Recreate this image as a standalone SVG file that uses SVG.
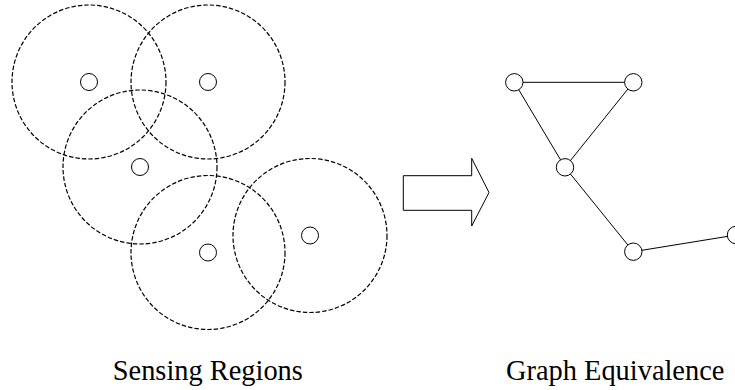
<svg xmlns="http://www.w3.org/2000/svg" width="735" height="390" viewBox="0 0 735 390">
<style>
.range{fill:none;stroke:#000;stroke-width:1.2;stroke-dasharray:4.5,2}
.node{fill:#fff;stroke:#000;stroke-width:1}
.edge{stroke:#000;stroke-width:1;fill:none}
.lbl{font-family:"Liberation Serif","Times New Roman",serif;font-size:28.4px;fill:#000;text-anchor:middle}
</style>
<rect width="735" height="390" fill="#fff"/>
<g id="sensing-regions">
<circle class="range" cx="89" cy="82" r="77"/>
<circle class="range" cx="208" cy="82" r="77"/>
<circle class="range" cx="140" cy="167" r="77"/>
<circle class="range" cx="208" cy="252.5" r="77"/>
<circle class="range" cx="310" cy="235.5" r="77"/>
</g>
<g id="sensors">
<circle class="node" cx="89" cy="82" r="8.5"/>
<circle class="node" cx="208" cy="82" r="8.5"/>
<circle class="node" cx="140" cy="167" r="8.5"/>
<circle class="node" cx="208" cy="252.5" r="8.5"/>
<circle class="node" cx="310" cy="235.5" r="8.5"/>
</g>
<g id="arrow">
<polygon points="403.3,175.7 471.7,175.7 471.7,158.3 489,192.5 471.7,226 471.7,210.3 403.3,210.3" fill="#fff" stroke="#000" stroke-width="1"/>
</g>
<g id="connectors">
<line class="edge" x1="514.3" y1="82.3" x2="633.3" y2="82.3"/>
<line class="edge" x1="514.3" y1="82.3" x2="565" y2="167.3"/>
<line class="edge" x1="633.3" y1="82.3" x2="565" y2="167.3"/>
<line class="edge" x1="565" y1="167.3" x2="633.3" y2="251.7"/>
<line class="edge" x1="633.3" y1="251.7" x2="736" y2="235"/>
</g>
<g id="n1"><circle class="node" cx="514.3" cy="82.3" r="8.7"/></g>
<g id="n2"><circle class="node" cx="633.3" cy="82.3" r="8.7"/></g>
<g id="n3"><circle class="node" cx="565" cy="167.3" r="8.7"/></g>
<g id="n4"><circle class="node" cx="633.3" cy="251.7" r="8.7"/></g>
<g id="n5"><circle class="node" cx="736" cy="235" r="8.7"/></g>
<g id="labels">
<text class="lbl" x="207.8" y="380">Sensing Regions</text>
<text class="lbl" x="615.2" y="380">Graph Equivalence</text>
</g>
</svg>
